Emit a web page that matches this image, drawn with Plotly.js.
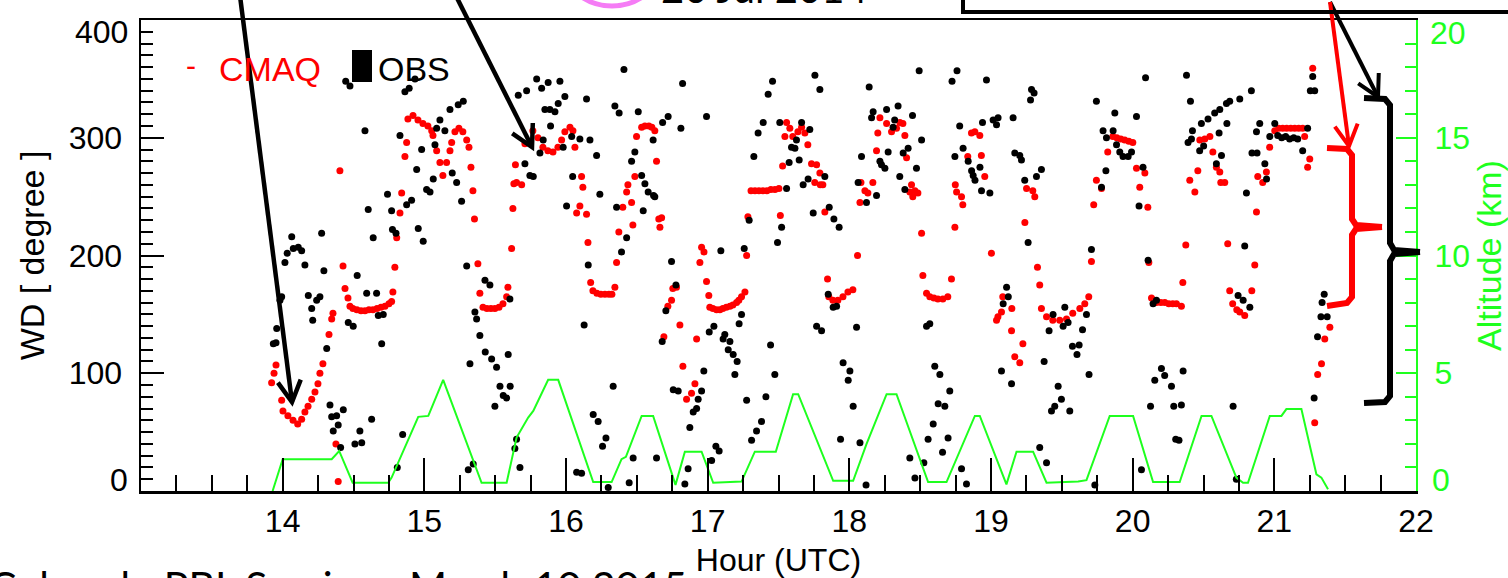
<!DOCTYPE html>
<html><head><meta charset="utf-8">
<script src="https://cdn.plot.ly/plotly-3.0.1.min.js"></script>
<style>html,body{margin:0;padding:0;background:#fff;overflow:hidden}#chart{width:1508px;height:578px}</style>
</head><body><div id="chart"></div>
<script>
// ---------------- data ----------------
const cmaqHour = [13.922,13.939,13.953,13.993,14.002,14.037,14.073,14.106,14.134,14.157,14.179,14.205,14.228,14.249,14.263,14.284,14.327,14.346,14.355,14.376,14.392,14.404,14.426,14.440,14.461,14.475,14.496,14.524,14.553,14.581,14.609,14.637,14.666,14.694,14.722,14.750,14.769,14.778,14.792,14.805,14.828,14.840,14.863,14.875,14.884,14.920,14.955,14.990,15.025,15.052,15.061,15.087,15.110,15.131,15.157,15.181,15.193,15.216,15.244,15.272,15.299,15.315,15.329,15.343,15.354,15.378,15.392,15.414,15.442,15.470,15.498,15.527,15.555,15.581,15.590,15.616,15.625,15.632,15.643,15.651,15.687,15.710,15.766,15.802,15.837,15.872,15.908,15.943,15.969,15.992,16.028,16.049,16.063,16.075,16.098,16.110,16.119,16.145,16.155,16.174,16.190,16.218,16.246,16.275,16.303,16.324,16.345,16.357,16.373,16.401,16.428,16.437,16.463,16.472,16.486,16.498,16.534,16.557,16.585,16.606,16.627,16.639,16.655,16.663,16.675,16.691,16.719,16.745,16.754,16.780,16.804,16.825,16.851,16.886,16.910,16.922,16.945,16.957,16.974,16.992,17.008,17.015,17.037,17.063,17.086,17.107,17.132,17.157,17.178,17.204,17.220,17.239,17.263,17.275,17.284,17.306,17.334,17.362,17.390,17.418,17.446,17.475,17.503,17.513,17.529,17.545,17.557,17.580,17.601,17.637,17.663,17.686,17.707,17.733,17.756,17.769,17.792,17.795,17.813,17.827,17.846,17.855,17.884,17.919,17.955,17.990,18.025,18.058,18.075,18.082,18.110,18.131,18.166,18.192,18.201,18.216,18.263,18.298,18.333,18.357,18.378,18.392,18.404,18.427,18.439,18.448,18.463,18.484,18.510,18.519,18.545,18.568,18.597,18.625,18.660,18.695,18.721,18.745,18.748,18.757,18.792,18.801,18.836,18.862,18.886,18.921,18.932,18.956,19.003,19.039,19.049,19.074,19.083,19.145,19.147,19.168,19.203,19.225,19.239,19.251,19.295,19.309,19.328,19.344,19.356,19.392,19.436,19.485,19.533,19.577,19.627,19.662,19.690,19.709,19.725,19.744,19.780,19.824,19.860,19.888,19.916,19.944,19.973,20.001,20.027,20.050,20.086,20.107,20.114,20.133,20.168,20.199,20.227,20.255,20.283,20.309,20.344,20.354,20.375,20.403,20.439,20.460,20.474,20.509,20.545,20.566,20.591,20.615,20.622,20.650,20.671,20.685,20.706,20.735,20.756,20.791,20.841,20.862,20.874,20.883,20.918,20.944,20.967,21.003,21.031,21.059,21.087,21.116,21.144,21.172,21.200,21.214,21.235,21.250,21.271,21.285,21.306,21.333,21.356,21.392];
const cmaqWD = [92,100,107,77,68,64,60,57,61,67,72,78,84,91,100,108,133,146,151,40,8,272,191,172,164,157,155,154,153,153,154,154,155,156,157,159,161,169,190,215,236,253,284,296,316,319,315,312,310,306,302,289,279,268,279,289,296,305,308,305,298,292,275,255,231,193,168,156,155,155,155,156,159,165,173,206,240,261,277,262,260,295,306,300,292,289,288,292,298,305,309,306,292,236,242,267,258,235,211,177,170,168,167,167,167,167,173,194,220,241,254,260,245,226,267,301,309,310,310,309,306,280,231,224,232,131,157,162,172,173,141,106,78,83,91,129,194,207,203,178,166,156,155,154,154,155,156,157,158,160,162,165,169,200,233,255,255,255,255,255,256,256,257,234,276,301,313,308,301,305,309,304,294,278,262,277,270,260,260,237,180,165,162,162,165,169,171,200,245,262,255,253,262,289,304,317,312,305,308,313,312,302,283,254,260,250,255,253,219,183,168,165,164,163,163,165,180,224,260,254,250,243,284,304,305,302,285,267,202,145,148,152,165,136,155,114,109,125,228,257,255,250,190,175,155,148,145,145,146,151,155,159,165,195,243,264,257,288,301,300,299,298,297,296,274,258,270,241,194,164,160,160,160,159,159,159,157,177,209,264,254,272,298,299,301,288,275,271,262,262,210,170,159,154,152,149,170,192,237,267,262,271,292,306,308,308,308,308,308,308,308,301,275,282,359,58,99,108,129,139];

const obsHour = [13.934,13.953,13.958,13.981,13.993,14.016,14.032,14.064,14.075,14.110,14.134,14.157,14.181,14.205,14.212,14.240,14.263,14.275,14.291,14.311,14.334,14.346,14.357,14.381,14.392,14.409,14.428,14.445,14.463,14.475,14.498,14.510,14.526,14.545,14.558,14.581,14.593,14.604,14.628,14.639,14.663,14.675,14.699,14.710,14.740,14.769,14.775,14.800,14.809,14.828,14.847,14.863,14.875,14.893,14.910,14.934,14.946,14.957,14.981,14.992,15.016,15.040,15.063,15.075,15.087,15.110,15.145,15.181,15.197,15.228,15.239,15.263,15.275,15.299,15.310,15.322,15.345,15.357,15.369,15.392,15.428,15.430,15.463,15.475,15.498,15.510,15.534,15.557,15.581,15.592,15.604,15.606,15.639,15.651,15.663,15.675,15.710,15.722,15.745,15.769,15.793,15.816,15.828,15.839,15.851,15.874,15.886,15.891,15.922,15.945,15.957,15.980,15.992,16.004,16.040,16.047,16.075,16.098,16.110,16.128,16.145,16.157,16.169,16.192,16.216,16.227,16.239,16.258,16.282,16.298,16.333,16.345,16.357,16.375,16.392,16.409,16.428,16.446,16.463,16.474,16.486,16.510,16.534,16.545,16.557,16.580,16.615,16.618,16.627,16.639,16.679,16.682,16.705,16.721,16.745,16.757,16.776,16.792,16.811,16.823,16.839,16.862,16.874,16.898,16.922,16.933,16.957,16.973,16.992,17.011,17.028,17.044,17.058,17.081,17.093,17.109,17.121,17.145,17.157,17.180,17.192,17.208,17.222,17.239,17.258,17.275,17.293,17.310,17.326,17.345,17.356,17.380,17.392,17.411,17.427,17.444,17.458,17.474,17.493,17.509,17.522,17.557,17.575,17.592,17.616,17.627,17.646,17.663,17.674,17.709,17.721,17.745,17.757,17.769,17.792,17.804,17.827,17.851,17.858,17.886,17.891,17.910,17.928,17.938,17.956,17.992,18.004,18.027,18.051,18.062,18.075,18.086,18.118,18.121,18.140,18.157,18.168,18.192,18.216,18.227,18.251,18.263,18.274,18.309,18.320,18.344,18.356,18.380,18.392,18.415,18.427,18.446,18.463,18.474,18.493,18.510,18.526,18.545,18.556,18.568,18.592,18.603,18.627,18.639,18.658,18.674,18.697,18.709,18.725,18.745,18.760,18.779,18.792,18.803,18.827,18.839,18.863,18.874,18.887,18.922,18.933,18.940,18.968,18.992,19.015,19.039,19.050,19.074,19.086,19.110,19.122,19.145,19.156,19.168,19.203,19.215,19.238,19.262,19.279,19.286,19.304,19.321,19.344,19.356,19.375,19.392,19.410,19.427,19.438,19.450,19.474,19.497,19.509,19.521,19.544,19.556,19.575,19.607,19.622,19.646,19.674,19.692,19.709,19.733,19.744,19.780,19.791,19.811,19.815,19.862,19.874,19.886,19.909,19.932,19.968,19.992,20.027,20.045,20.062,20.073,20.091,20.109,20.126,20.144,20.156,20.168,20.203,20.226,20.274,20.290,20.304,20.327,20.344,20.356,20.380,20.391,20.408,20.415,20.422,20.473,20.485,20.501,20.532,20.579,20.591,20.610,20.615,20.627,20.662,20.665,20.685,20.709,20.732,20.744,20.756,20.780,20.791,20.803,20.827,20.838,20.842,20.874,20.878,20.897,20.933,20.945,20.968,21.003,21.024,21.052,21.080,21.108,21.137,21.165,21.200,21.235,21.254,21.271,21.281,21.285,21.305,21.329,21.337,21.352,21.373];
const obsWD = [125,126,138,162,165,194,202,216,206,207,204,192,166,155,145,162,165,219,187,121,73,63,51,64,56,37,69,348,143,344,140,40,183,51,41,306,168,239,61,215,168,149,125,150,252,238,222,219,20,302,48,339,243,342,247,350,273,223,290,212,256,254,265,294,308,315,306,324,270,262,328,246,331,191,18,108,23,152,146,132,179,118,175,112,72,105,89,81,79,116,163,89,36,44,336,20,278,340,268,267,350,287,342,298,324,347,324,310,322,329,348,292,335,242,301,267,16,299,15,141,333,192,298,65,285,59,252,38,45,3,89,327,241,321,203,358,215,7,280,28,288,322,268,238,261,254,298,251,250,28,127,313,153,318,195,86,175,85,308,346,6,19,54,67,70,78,85,102,318,135,26,140,38,34,204,129,133,120,127,116,99,110,142,150,206,77,230,43,284,51,304,59,313,80,337,124,348,99,211,313,224,257,279,292,291,298,281,313,260,265,307,236,353,140,341,136,267,167,241,156,231,157,224,44,109,94,102,72,139,262,41,284,5,245,343,317,322,251,280,277,274,324,288,309,315,327,267,287,256,291,28,319,11,274,357,298,24,140,44,142,57,106,74,99,33,72,45,85,348,284,357,310,19,291,6,280,272,268,264,275,255,313,349,253,315,311,317,102,159,173,165,91,317,287,285,281,264,211,332,341,338,267,37,273,110,24,136,68,150,72,89,78,140,156,143,68,123,116,124,137,150,99,205,5,331,258,306,272,300,306,321,294,288,284,284,288,318,242,18,275,351,196,72,159,94,162,104,98,89,72,44,43,73,102,353,296,331,299,306,289,312,293,316,321,278,304,324,285,329,312,331,72,10,166,333,162,208,253,156,340,287,305,287,312,278,265,301,312,302,300,301,299,300,299,289,308,340,352,79,340,131,148,160,167,148];

const altHour = [13.929,14.000,14.346,14.399,14.494,14.745,14.769,14.957,15.028,15.133,15.404,15.581,15.651,15.733,15.769,15.874,15.945,16.192,16.322,16.392,16.423,16.534,16.615,16.773,16.839,16.957,17.039,17.239,17.333,17.481,17.603,17.639,17.886,18.027,18.121,18.263,18.333,18.556,18.686,18.886,18.921,19.109,19.180,19.297,19.392,19.615,19.674,19.838,20.003,20.144,20.332,20.486,20.556,20.732,20.779,20.814,20.968,21.050,21.085,21.191,21.297,21.332,21.379];
const altKm = [0,1.35,1.35,1.70,0.35,0.35,0.57,3.15,3.19,4.72,0.35,0.35,2.27,3.12,3.40,4.72,4.72,0.38,0.38,1.35,1.45,3.19,3.19,0.26,1.67,1.67,0.35,0.40,1.67,1.67,4.11,4.11,0.43,0.43,1.99,4.11,4.11,0.38,0.38,3.19,3.19,0.28,1.67,1.67,0.35,0.40,0.46,3.19,3.19,0.38,0.38,3.19,3.19,0.57,0.35,0.35,3.19,3.19,3.48,3.48,0.71,0.57,0.07];

const hourTicks = [14,15,16,17,18,19,20,21,22];
const wdTicks = [0,100,200,300,400];
const wdTickText = ['','100','200','300',''];
const altTicks = [0,5,10,15,20];
const altTickText = ['','5','10','15',''];
const seriesNames = ['CMAQ','OBS','Altitude'];

// ---------------- geometry helpers (pixel -> paper) ----------------
const L=141, R=1416, T=20, B=491, PW=R-L, PH=B-T;
const fx = x => (x-L)/PW;
const fy = y => (B-y)/PH;
const pathFrom = pts => pts.map((p,i)=>(i?'L':'M')+fx(p[0]).toFixed(5)+','+fy(p[1]).toFixed(5)).join(' ');
function arrow(x0,y0,x1,y1,color,width){
  const dx=x0-x1, dy=y0-y1, len=Math.hypot(dx,dy), ux=dx/len, uy=dy/len, a=0.5, hl=24;
  const rot = s => [x1+hl*(ux*Math.cos(s*a)-uy*Math.sin(s*a)), y1+hl*(ux*Math.sin(s*a)+uy*Math.cos(s*a))];
  return [
    {type:'path',xref:'paper',yref:'paper',path:pathFrom([[x0,y0],[x1,y1]]),line:{color:color,width:width}},
    {type:'path',xref:'paper',yref:'paper',path:pathFrom([rot(1),[x1,y1],rot(-1)]),line:{color:color,width:width}}
  ];
}
function minorVals(a,b,step){
  const out=[]; for(let v=a; v<=b+1e-9; v+=step){ out.push(Math.round(v*1000)/1000);} return out;
}

const GREEN = '#1eff1e';
const FONT = 'Liberation Sans, Arial, Helvetica, sans-serif';

const traces = [
  {x:cmaqHour, y:cmaqWD, name:seriesNames[0], type:'scatter', mode:'markers',
   marker:{color:'#ff0000', size:7}, cliponaxis:true},
  {x:obsHour, y:obsWD, name:seriesNames[1], type:'scatter', mode:'markers',
   marker:{color:'#000000', size:7}, cliponaxis:true},
  {x:altHour, y:altKm, name:seriesNames[2], type:'scatter', mode:'lines', yaxis:'y2',
   line:{color:GREEN, width:2}}
];

let shapes = [];
shapes = shapes.concat(arrow(240,-4,292,402,'#000',4.5));
shapes = shapes.concat(arrow(456,-4,532,147,'#000',4.5));
shapes = shapes.concat(arrow(1330,2,1378,97,'#000',4));
shapes = shapes.concat(arrow(1330,2,1349,146,'#ff0000',4));
// black brace
shapes.push({type:'path',xref:'paper',yref:'paper',line:{color:'#000',width:6},
  path:pathFrom([[1364,98],[1385,99],[1390,105],[1390,243],[1394,250],[1420,252]])});
shapes.push({type:'path',xref:'paper',yref:'paper',line:{color:'#000',width:6},
  path:pathFrom([[1420,252],[1394,254],[1390,261],[1390,396],[1385,402],[1364,403]])});
// red brace
shapes.push({type:'path',xref:'paper',yref:'paper',line:{color:'#ff0000',width:6},
  path:pathFrom([[1327,148],[1347,149],[1352,155],[1352,219],[1356,225],[1382,227]])});
shapes.push({type:'path',xref:'paper',yref:'paper',line:{color:'#ff0000',width:6},
  path:pathFrom([[1382,227],[1356,229],[1352,235],[1352,297],[1347,303],[1327,306]])});
// magenta circle (mostly off the top)
shapes.push({type:'circle',xref:'paper',yref:'paper',x0:fx(557),x1:fx(667),y0:fy(6),y1:fy(-104),
  line:{color:'#f57cf5',width:5}});
// box at top right
shapes.push({type:'path',xref:'paper',yref:'paper',line:{color:'#000',width:4},
  path:pathFrom([[963,-6],[963,12],[1515,12]])});
// legend square for OBS
shapes.push({type:'rect',xref:'paper',yref:'paper',x0:fx(352),x1:fx(372),y0:fy(82),y1:fy(50),
  fillcolor:'#000',line:{width:0}});

function note(text, x, y, xa, ya, size, color, family){
  return {text:text, x:fx(x), y:fy(y), xref:'paper', yref:'paper', xanchor:xa, yanchor:ya,
    showarrow:false, font:{size:size, color:color, family:family||FONT}, borderpad:0};
}
const annotations = [
  note('-', 191, 65, 'center', 'middle', 30, '#ff0000'),
  note('CMAQ', 270, 69, 'center', 'middle', 34, '#ff0000'),
  note('OBS', 377, 69, 'left', 'middle', 34, '#000'),
  note('400', 129, 32, 'right', 'middle', 32, '#000'),
  note('0', 129, 480, 'right', 'middle', 32, '#000'),
  note('20', 1429, 33, 'left', 'middle', 32, GREEN),
  note('0', 1431, 480, 'left', 'middle', 32, GREEN),
  note('20 Jul 2014', 660, 13, 'left', 'bottom', 40, '#000', 'Lato, sans-serif'),
  note('Colorado PBL Seminar, March 10 2015', -12, 560, 'left', 'top', 41, '#000', 'Lato, sans-serif')
];

const layout = {
  width:1508, height:578,
  margin:{l:L, r:1508-R, t:T, b:578-B, pad:0},
  paper_bgcolor:'#fff', plot_bgcolor:'#fff',
  showlegend:false,
  font:{family:FONT, color:'#000'},
  xaxis:{range:[13,22], showgrid:false, zeroline:false, showline:true, linecolor:'#000', linewidth:2.5, mirror:true,
    tickmode:'array', tickvals:hourTicks, ticks:'inside', ticklen:33, tickwidth:2, tickcolor:'#000',
    minor:{tickvals:minorVals(13.25,21.75,0.25), ticks:'inside', ticklen:16, tickwidth:2, tickcolor:'#000'},
    tickfont:{size:32, family:FONT, color:'#000'}, ticklabelstandoff:0,
    title:{text:'Hour (UTC)', font:{size:32, family:FONT, color:'#000'}, standoff:20}, automargin:false},
  xaxis3:{overlaying:'x', anchor:'y', side:'top', range:[-0.587,3.174], showgrid:false, zeroline:false, showline:false,
    mirror:'ticks', tickmode:'array', tickvals:[0,1,2,3], ticks:'inside', ticklen:9, tickwidth:1.5, tickcolor:'#000',
    minor:{tickvals:minorVals(-0.5,3.1,0.1), ticks:'inside', ticklen:5, tickwidth:1.5, tickcolor:'#000'},
    showticklabels:false},
  yaxis:{range:[0,400], showgrid:false, zeroline:false, showline:true, linecolor:'#000', linewidth:2.5,
    tickmode:'array', tickvals:wdTicks, ticktext:wdTickText, ticks:'inside', ticklen:23, tickwidth:2, tickcolor:'#000',
    minor:{tickvals:minorVals(10,390,10), ticks:'inside', ticklen:12, tickwidth:2, tickcolor:'#000'},
    tickfont:{size:32, family:FONT, color:'#000'}, ticklabelstandoff:10,
    title:{text:'WD [ degree ]', font:{size:34, family:FONT, color:'#000'}, standoff:14}, automargin:false},
  yaxis2:{overlaying:'y', side:'right', anchor:'x', range:[0,20], showgrid:false, zeroline:false, showline:true,
    linecolor:GREEN, linewidth:2, tickmode:'array', tickvals:altTicks, ticktext:altTickText, ticks:'inside', ticklen:20, tickwidth:2, tickcolor:GREEN,
    minor:{tickvals:minorVals(1,19,1), ticks:'inside', ticklen:11, tickwidth:2, tickcolor:GREEN},
    tickfont:{size:32, family:FONT, color:GREEN}, ticklabelstandoff:10,
    title:{text:'Altitude (km)', font:{size:34, family:FONT, color:GREEN}, standoff:2}, automargin:false},
  shapes:shapes,
  annotations:annotations
};

Plotly.newPlot('chart', traces, layout, {displayModeBar:false, staticPlot:true});
</script>
</body></html>
